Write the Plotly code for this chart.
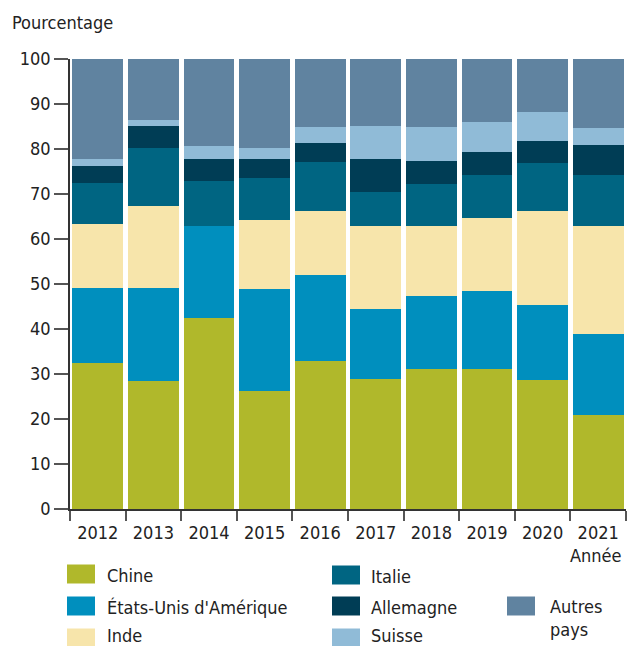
import plotly.graph_objects as go

years = ["2012", "2013", "2014", "2015", "2016", "2017", "2018", "2019", "2020", "2021"]

chine = [32.5, 28.5, 42.5, 26.3, 33.0, 29.0, 31.2, 31.2, 28.7, 21.0]
etats_unis = [16.7, 20.7, 20.4, 22.6, 19.1, 15.5, 16.2, 17.3, 16.7, 18.0]
inde = [14.2, 18.2, 0.0, 15.4, 14.2, 18.4, 15.5, 16.2, 20.9, 23.9]
italie = [9.1, 12.9, 10.0, 9.3, 10.8, 7.6, 9.4, 9.6, 10.6, 11.4]
allemagne = [3.7, 4.8, 4.9, 4.2, 4.2, 7.3, 5.1, 5.1, 4.9, 6.6]
suisse = [1.6, 1.4, 2.9, 2.4, 3.6, 7.3, 7.5, 6.6, 6.4, 3.8]
autres = [22.2, 13.5, 19.3, 19.8, 15.1, 14.9, 15.1, 14.0, 11.8, 15.3]

series_names = ["Chine", "États-Unis d'Amérique", "Inde", "Italie", "Allemagne", "Suisse", "Autres pays"]
series_values = [chine, etats_unis, inde, italie, allemagne, suisse, autres]
colors = ["#b0b82b", "#008fbe", "#f7e5ab", "#006582", "#003d55", "#90bbd7", "#6083a0"]

y_ticks = [0, 10, 20, 30, 40, 50, 60, 70, 80, 90, 100]

FONT = "Liberation Sans Narrow, DejaVu Sans Condensed, Arial Narrow, sans-serif"
W, H = 627, 646
ML, MR, MT, MB = 70, 1, 59, 137
PW, PH = W - ML - MR, H - MT - MB


def px(x):
    return (x - ML) / PW


def py(y):
    return (H - MB - y) / PH


fig = go.Figure()
for name, vals, col in zip(series_names, series_values, colors):
    fig.add_trace(go.Bar(x=years, y=vals, name=name, marker=dict(color=col, line=dict(width=0)),
                         showlegend=False))

# manual legend (3 columns): swatch x, swatch y-centre, text x, text y-centre, label
legend_pos = [
    (67, 574, 105, 575, "Chine"),
    (67, 606, 105, 607, "États-Unis d'Amérique"),
    (67, 638, 105, 635, "Inde"),
    (332, 575, 369, 576, "Italie"),
    (332, 606, 369, 607, "Allemagne"),
    (332, 638, 369, 635, "Suisse"),
    (507, 606, 548, 594, "Autres<br>pays"),
]
shapes = []
annotations = []
for (sx, sy, tx, ty, label), col in zip(legend_pos, colors):
    shapes.append(dict(type="rect", xref="paper", yref="paper",
                       x0=px(sx), x1=px(sx + 28), y0=py(sy - 9.5), y1=py(sy + 9.5),
                       fillcolor=col, line=dict(width=0), layer="above"))
    if "<br>" in label:
        annotations.append(dict(text=label, xref="paper", yref="paper", x=px(tx), y=py(ty),
                                xanchor="left", yanchor="top", align="left", showarrow=False,
                                font=dict(family=FONT, size=18, color="#222")))
    else:
        annotations.append(dict(text=label, xref="paper", yref="paper", x=px(tx), y=py(ty),
                                xanchor="left", yanchor="middle", showarrow=False,
                                font=dict(family=FONT, size=18, color="#222")))

annotations.append(dict(text="Pourcentage", xref="paper", yref="paper", x=px(10), y=py(22),
                        xanchor="left", yanchor="middle", showarrow=False,
                        font=dict(family=FONT, size=18, color="#222")))
annotations.append(dict(text="Année", xref="paper", yref="paper", x=px(624), y=py(555),
                        xanchor="right", yanchor="middle", showarrow=False,
                        font=dict(family=FONT, size=18, color="#222")))

fig.update_layout(
    width=W, height=H,
    margin=dict(l=ML, r=MR, t=MT, b=MB, pad=0),
    barmode="stack",
    bargap=0.085,
    plot_bgcolor="white",
    paper_bgcolor="white",
    font=dict(family=FONT, size=18, color="#222"),
    shapes=shapes,
    annotations=annotations,
    xaxis=dict(type="category", showgrid=False, zeroline=False, showline=True,
               linecolor="#333", linewidth=1.5, ticks="outside", tickson="boundaries",
               ticklen=10, tickwidth=1.5, tickcolor="#555", ticklabelstandoff=7,
               tickfont=dict(family=FONT, size=18, color="#222"), fixedrange=True),
    yaxis=dict(range=[0, 100], tickvals=y_ticks, showgrid=False, zeroline=False,
               showline=True, linecolor="#333", linewidth=1.5, ticks="outside",
               ticklen=14, tickwidth=2, tickcolor="#555",
               tickfont=dict(family=FONT, size=18, color="#222"), fixedrange=True),
)

fig.write_html(
    "out.html",
    config={"displayModeBar": False},
    post_script="document.body.style.margin='0';document.body.style.padding='0';"
                "document.body.style.overflow='hidden';",
)
